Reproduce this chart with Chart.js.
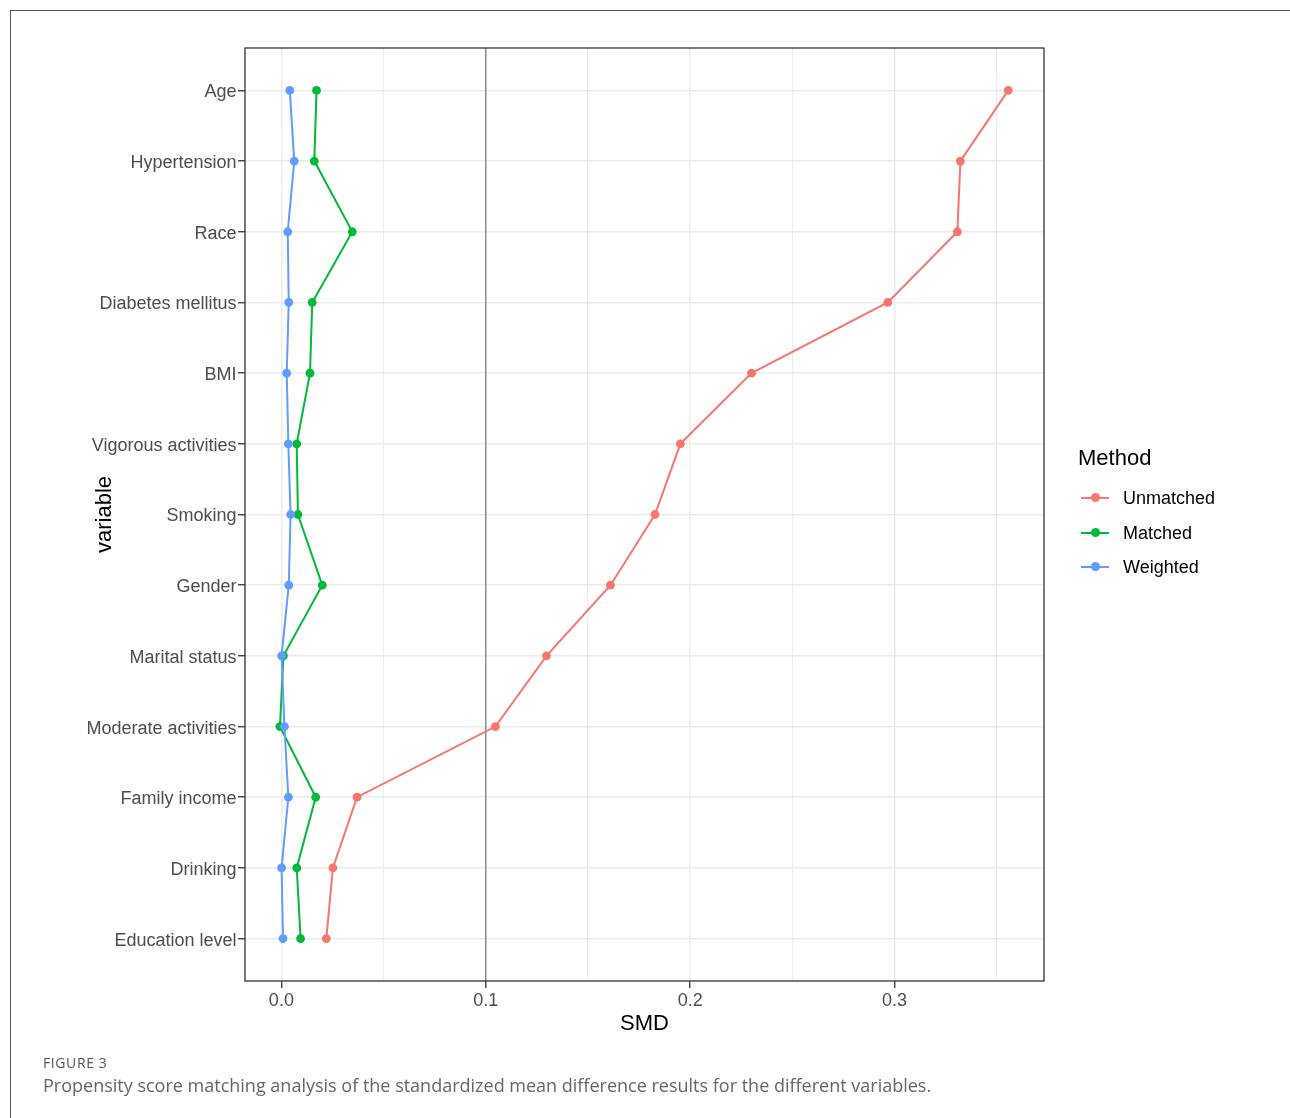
<!DOCTYPE html>
<html>
<head>
<meta charset="utf-8">
<script src="https://cdn.jsdelivr.net/npm/chart.js@4/dist/chart.umd.min.js"></script>
<style>
  html, body { margin: 0; padding: 0; background: #fff; overflow: hidden; }
  body { width: 1290px; height: 1118px; position: relative; }
  #frame {
    position: absolute; left: 10px; top: 10px; width: 1400px; height: 1300px;
    border-left: 1.5px solid #555; border-top: 1.5px solid #555;
  }
  #smdChart { position: absolute; left: 0; top: 0; }
  #legend {
    position: absolute; left: 1078px; top: 444px;
    font-family: 'Liberation Sans', Arial, sans-serif; color: #000;
  }
  #legend .title { font-size: 22px; line-height: 28px; margin-bottom: 16px; }
  #legend .item { position: relative; height: 34.5px; font-size: 18px; line-height: 20px; }
  #legend .key { position: absolute; left: 3px; top: 9px; width: 28px; height: 2px; }
  #legend .dot { position: absolute; left: 10px; top: -4px; width: 9px; height: 9px; border-radius: 50%; }
  #legend .label { position: absolute; left: 45px; top: 0; }
  .caption { position: absolute; left: 43px; font-family: 'Open Sans', Lato, sans-serif; white-space: nowrap; }
  #figLabel { top: 1053px; font-size: 14px; color: #555; letter-spacing: 0.6px; }
  #figText { top: 1073px; font-size: 18px; color: #666; }
</style>
</head>
<body>
<div id="frame"></div>
<canvas id="smdChart" width="1290" height="1118"></canvas>
<div id="legend"></div>
<div class="caption" id="figLabel">FIGURE 3</div>
<div class="caption" id="figText">Propensity score matching analysis of the standardized mean difference results for the different variables.</div>

<script>
// Variables, from top to bottom of the plot
const variables = [
  'Age', 'Hypertension', 'Race', 'Diabetes mellitus', 'BMI',
  'Vigorous activities', 'Smoking', 'Gender', 'Marital status',
  'Moderate activities', 'Family income', 'Drinking', 'Education level'
];

// SMD per method
const unmatched = [0.3556, 0.3322, 0.3307, 0.2967, 0.2300, 0.1952, 0.1828, 0.1610, 0.1297, 0.1047, 0.0370, 0.0252, 0.0220];
const matched   = [0.0172, 0.0161, 0.0347, 0.0151, 0.0140, 0.0075, 0.0081, 0.0200, 0.0010, -0.0007, 0.0168, 0.0075, 0.0094];
const weighted  = [0.0041, 0.0063, 0.0031, 0.0036, 0.0026, 0.0034, 0.0045, 0.0036, 0.0001, 0.0015, 0.0034, 0.0001, 0.0008];

const methods = ['Unmatched', 'Matched', 'Weighted'];
const methodColors = ['#F8766D', '#00BA38', '#619CFF'];

// Axis ticks
const xMajorTicks = [0, 0.1, 0.2, 0.3];
const xMinorTicks = [0.05, 0.15, 0.25, 0.35];
const referenceLine = 0.1;

Chart.defaults.font.family = "'Liberation Sans', Arial, sans-serif";

function toPoints(values) {
  return values.map((v, i) => ({ x: v, y: i }));
}

function makeDataset(label, values, color, order) {
  return {
    label,
    data: toPoints(values),
    showLine: true,
    borderColor: color,
    backgroundColor: color,
    borderWidth: 2,
    pointRadius: 4.4,
    pointBorderWidth: 0,
    pointHoverRadius: 4.4,
    order
  };
}

// Linha vertical de referência + moldura do painel
const panelPlugin = {
  id: 'panel',
  beforeDatasetsDraw(chart) {
    const { ctx, chartArea, scales } = chart;
    const x = scales.x.getPixelForValue(referenceLine);
    ctx.save();
    ctx.strokeStyle = '#6e6e6e';
    ctx.lineWidth = 1.1;
    ctx.beginPath();
    ctx.moveTo(x, chartArea.top);
    ctx.lineTo(x, chartArea.bottom);
    ctx.stroke();
    ctx.restore();
  },
  afterDatasetsDraw(chart) {
    const { ctx, chartArea } = chart;
    ctx.save();
    ctx.strokeStyle = '#333';
    ctx.lineWidth = 1.3;
    ctx.strokeRect(chartArea.left, chartArea.top, chartArea.right - chartArea.left, chartArea.bottom - chartArea.top);
    ctx.restore();
  }
};

const ctx = document.getElementById('smdChart').getContext('2d');

new Chart(ctx, {
  type: 'scatter',
  data: {
    datasets: [
      makeDataset(methods[0], unmatched, methodColors[0], 3),
      makeDataset(methods[1], matched, methodColors[1], 2),
      makeDataset(methods[2], weighted, methodColors[2], 1)
    ]
  },
  options: {
    responsive: false,
    animation: false,
    layout: { padding: { left: 0, top: 48, right: 246, bottom: 77 } },
    plugins: {
      legend: { display: false },
      tooltip: { enabled: false }
    },
    scales: {
      x: {
        type: 'linear',
        min: -0.0178,
        max: 0.3731,
        afterBuildTicks(scale) {
          const ticks = xMajorTicks.map(v => ({ value: v, minor: false }))
            .concat(xMinorTicks.map(v => ({ value: v, minor: true })));
          scale.ticks = ticks.sort((a, b) => a.value - b.value);
        },
        afterFit(scale) { scale.height = 60; },
        border: { display: false },
        grid: {
          color: '#ebebeb',
          lineWidth: c => (c.tick && c.tick.minor ? 0.9 : 1.5),
          tickColor: c => (c.tick && c.tick.minor ? 'rgba(0,0,0,0)' : '#333'),
          tickLength: 7,
          tickWidth: 1.3
        },
        ticks: {
          autoSkip: false,
          maxRotation: 0,
          padding: 2,
          color: '#4d4d4d',
          font: { size: 18 },
          callback(value, index, ticks) {
            return ticks[index].minor ? '' : value.toFixed(1);
          }
        },
        title: {
          display: true,
          text: 'SMD',
          color: '#000',
          font: { size: 22 },
          padding: { top: 0, bottom: 4 }
        }
      },
      y: {
        type: 'linear',
        reverse: true,
        min: -0.6,
        max: variables.length - 1 + 0.6,
        afterBuildTicks(scale) {
          scale.ticks = variables.map((_, i) => ({ value: i }));
        },
        afterFit(scale) { scale.width = 245; },
        border: { display: false },
        grid: {
          color: '#ebebeb',
          lineWidth: 1.5,
          tickColor: '#333',
          tickLength: 7,
          tickWidth: 1.3
        },
        ticks: {
          autoSkip: false,
          padding: 1.5,
          labelOffset: 2,
          color: '#4d4d4d',
          font: { size: 18 },
          callback(value) {
            return variables[value];
          }
        },
        title: {
          display: true,
          text: 'variable',
          color: '#000',
          font: { size: 22 },
          padding: { top: 92, bottom: 0 }
        }
      }
    }
  },
  plugins: [panelPlugin]
});

// Legenda em HTML
function buildLegend() {
  const box = document.getElementById('legend');
  box.innerHTML = '<div class="title">Method</div>' + methods.map((m, i) => `
    <div class="item">
      <span class="key" style="background:${methodColors[i]}"><span class="dot" style="background:${methodColors[i]}"></span></span>
      <span class="label">${m}</span>
    </div>`).join('');
}
buildLegend();
</script>
</body>
</html>
